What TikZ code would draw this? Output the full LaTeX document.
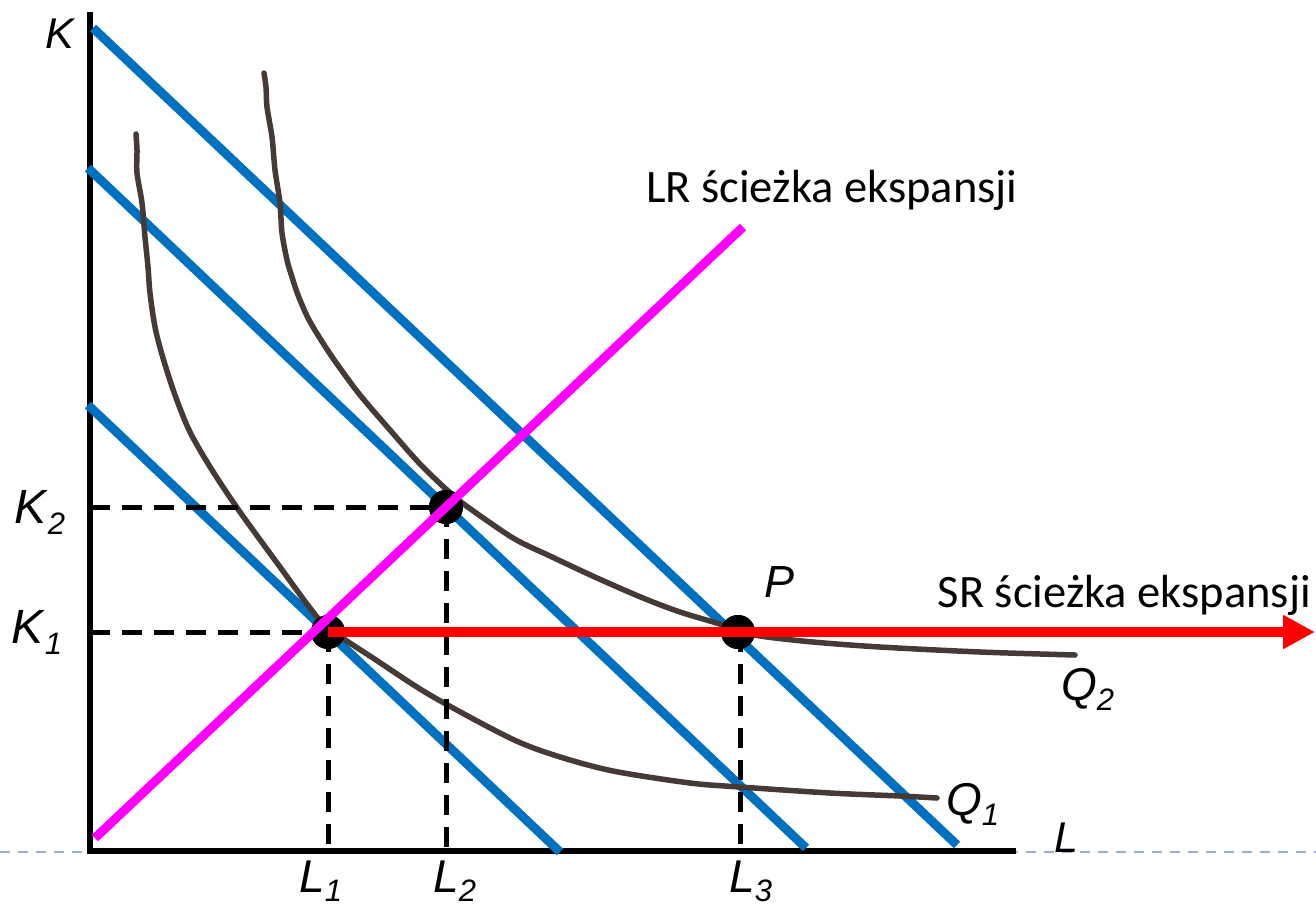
\documentclass[tikz,border=0pt]{standalone}
\usepackage{fontspec}
\setmainfont{Carlito}
\newfontfamily\arial{Liberation Sans}
\usetikzlibrary{arrows.meta}
\definecolor{budget}{HTML}{0070C0}
\definecolor{lrpath}{HTML}{FF00FF}
\definecolor{srpath}{HTML}{FF0000}
\definecolor{isoq}{HTML}{453A35}
\definecolor{guide}{HTML}{9AB0C8}
\newcommand{\axlab}[4]{{\arial\fontsize{#3}{#3}\selectfont\textit{#1}\raisebox{-#4pt}{\fontsize{31}{31}\selectfont\textit{#2}}}}
\begin{document}
\begin{tikzpicture}[x=1pt,y=-1pt,
  axisline/.style={line width=6pt,black},
  budgetline/.style={line width=9pt,budget},
  isoquant/.style={line width=5.5pt,isoq,line cap=round,line join=round},
  guideline/.style={line width=5pt,black,dash pattern=on 20pt off 12pt},
  pointdot/.style={circle,fill=black,inner sep=0pt,minimum size=34pt},
  lab/.style={inner sep=0pt,anchor=base west},
  pathtext/.style={inner sep=0pt,font=\fontsize{46.5}{46.5}\selectfont}]
\useasboundingbox (0,0) rectangle (1316,908);

% background dashed guide
\coordinate (gl) at (0,852);
\coordinate (gr) at (1316,852);
\draw[guide,line width=2pt,dash pattern=on 10pt off 8pt] (gl) -- (gr);

% axes
\coordinate (O) at (90,851);
\coordinate (Ktop) at (90,12);
\coordinate (Lend) at (1016,851);
\draw[axisline] (Ktop) -- (90,854);
\draw[axisline] (87,851) -- (Lend);

% budget lines
\coordinate (a1) at (93,28);   \coordinate (a2) at (957,845);
\coordinate (b1) at (88,168);  \coordinate (b2) at (806,848);
\coordinate (c1) at (88,405);  \coordinate (c2) at (560,852);
\draw[budgetline] (a1) -- (a2);
\draw[budgetline] (b1) -- (b2);
\draw[budgetline] (c1) -- (c2);

% isoquants
\draw[isoquant] plot[smooth,tension=0.5] coordinates{
 (136,134) (137,150) (137,173) (142,203) (145,237) (148,267) (150,293)
 (155,327) (163,358) (175,395) (190,432) (212,470) (240,512) (280,567)
 (310,608) (328,628) (373,658) (430,695)
 (510,738) (557,756) (613,771) (690,783) (740,787) (830,793) (900,796) (937,798)};
\draw[isoquant] plot[smooth,tension=0.5] coordinates{
 (264,73) (266,87) (267,107) (272,137) (275,170) (280,203) (282,233)
 (287,260) (292,277) (298,295) (308,318) (321,340) (337,364) (360,395)
 (390,430) (420,464) (447,490) (465,505) (513,538) (550,556) (597,578)
 (643,598) (680,612) (720,624) (738,630) (760,636) (813,642) (880,647)
 (980,652) (1075,655)};

% points
\node[pointdot] (d1) at (328,632) {};
\node[pointdot] (d2) at (446,507) {};
\node[pointdot] (dP) at (738,632) {};

% guide dashed lines
\coordinate (k1ax) at (90,632);
\coordinate (k2ax) at (90,507);
\coordinate (l1ax) at (328,851);
\coordinate (l2ax) at (446,851);
\coordinate (l3ax) at (740,851);
\draw[guideline] (k1ax) -- (d1.center);
\draw[guideline] (k2ax) -- (d2.center);
\draw[guideline] (d1.center) -- (l1ax);
\draw[guideline] (d2.center) -- (l2ax);
\draw[guideline] (740,632) -- (l3ax);
\node[pointdot] at (d1) {};
\node[pointdot] at (d2) {};
\node[pointdot] at (dP) {};

% LR expansion path
\coordinate (m1) at (95,838);
\coordinate (m2) at (743,227);
\draw[lrpath,line width=9pt] (m1) -- (m2);

% SR expansion path
\coordinate (arrowend) at (1315,632);
\draw[srpath,line width=10pt,-{Triangle[length=32pt,width=32pt]}] (d1.center) -- (arrowend);

% labels
\node[lab] (lK) at (45,48) {\axlab{K}{}{43}{10}};
\node[lab] (lK2) at (14,523) {\axlab{K}{2}{48}{11}};
\node[lab] (lK1) at (11,643) {\axlab{K}{1}{48}{11}};
\node[lab] (lL1) at (299,892) {\axlab{L}{1}{46}{9}};
\node[lab] (lL2) at (433,892) {\axlab{L}{2}{46}{9}};
\node[lab] (lL3) at (729,892) {\axlab{L}{3}{46}{9}};
\node[lab] (lL) at (1054,852) {\axlab{L}{}{43}{10}};
\node[lab] (lQ1) at (946,815) {\axlab{Q}{1}{46}{10}};
\node[lab] (lQ2) at (1061,700) {\axlab{Q}{2}{46}{10}};
\node[lab] (lP) at (764,597) {\axlab{P}{}{45}{10}};

\node[pathtext,anchor=base west] (lr) at (646,202) {LR ścieżka ekspansji};
\node[pathtext,anchor=base east] (sr) at (1311,607) {SR ścieżka ekspansji};
\end{tikzpicture}
\end{document}
